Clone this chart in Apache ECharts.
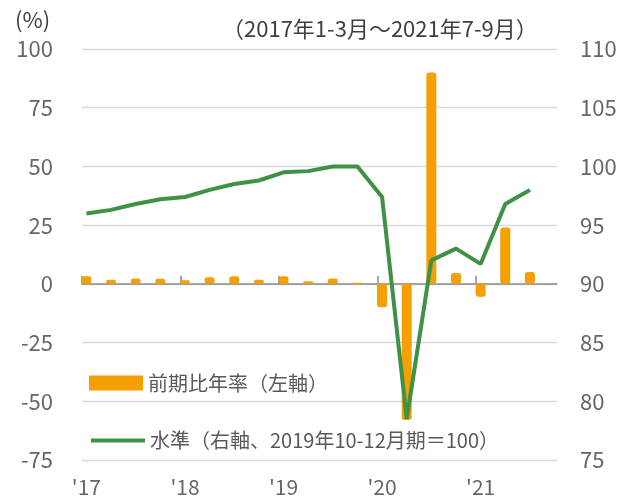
<!DOCTYPE html>
<html>
<head>
<meta charset="utf-8">
<script src="https://cdn.jsdelivr.net/npm/echarts@6/dist/echarts.min.js"></script>
<style>html,body{margin:0;padding:0;background:#fff;}#c{width:631px;height:499px;}</style>
</head>
<body>
<div id="c"></div>
<script>
var categories = ['2017Q1','2017Q2','2017Q3','2017Q4','2018Q1','2018Q2','2018Q3','2018Q4','2019Q1','2019Q2','2019Q3','2019Q4','2020Q1','2020Q2','2020Q3','2020Q4','2021Q1','2021Q2','2021Q3'];
var growth = [3.2, 1.8, 2.3, 2.2, 1.5, 2.8, 3.2, 1.8, 3.2, 1.1, 2.3, 0.3, -10, -58, 90, 4.6, -5.5, 24, 5];
var level = [96.0, 96.3, 96.8, 97.2, 97.4, 98.0, 98.5, 98.8, 99.5, 99.6, 100.0, 100.0, 97.4, 78.5, 92.0, 93.0, 91.7, 96.8, 98.0];
var tickLabels = ["'17", "'18", "'19", "'20", "'21"];
var tickLabelIdx = [0, 4, 8, 12, 16];
var leftTicks = {min: -75, max: 100, interval: 25};
var rightTicks = {min: 75, max: 110, interval: 5};
var seriesNames = ['前期比年率（左軸）', '水準（右軸、2019年10-12月期＝100）'];
var titleText = '（2017年1-3月～2021年7-9月）';
var unitText = '(%)';

var FONT = '"Noto Sans CJK JP", "Noto Sans", sans-serif';
var TXT = '#595959';
var AX = '#666666';
var DARK = '#404040';
var ORANGE = '#f5a000';
var GREEN = '#3f9146';
var xMin = -0.18, xMax = 19.1;

var chart = echarts.init(document.getElementById('c'), null, {renderer: 'canvas'});
var legendBase = {
  orient: 'vertical', left: 89, padding: 0,
  itemWidth: 54, itemHeight: 15,
  textStyle: {fontSize: 20, color: TXT, fontFamily: FONT, lineHeight: 15}
};
chart.setOption({
  animation: false,
  textStyle: {fontFamily: FONT},
  grid: {left: 82, right: 74, top: 49, bottom: 39},
  graphic: [
    {type: 'text', left: 15, top: 9, style: {text: unitText, fontSize: 22, fill: DARK, fontFamily: FONT}},
    {type: 'text', left: 222, top: 18, style: {text: titleText, fontSize: 22, fill: DARK, fontFamily: FONT}}
  ],
  legend: [
    echarts.util.merge({top: 373, data: [{name: seriesNames[0], icon: 'rect', itemStyle: {borderWidth: 0}}]}, legendBase),
    echarts.util.merge({top: 430.5, data: [{name: seriesNames[1], itemStyle: {opacity: 0}, lineStyle: {width: 4, color: GREEN}}]}, legendBase)
  ],
  xAxis: [
    {
      type: 'value', min: xMin, max: xMax, position: 'bottom',
      axisLine: {show: false}, axisTick: {show: false}, splitLine: {show: false},
      axisLabel: {
        customValues: tickLabelIdx, margin: 17, fontSize: 21, color: AX, fontFamily: FONT,
        formatter: function (v) { var k = tickLabelIdx.indexOf(Math.round(v)); return k >= 0 ? tickLabels[k] : ''; }
      }
    },
    {
      type: 'value', min: xMin, max: xMax, position: 'bottom',
      axisLine: {show: true, onZero: true, onZeroAxisIndex: 0, lineStyle: {color: '#8c8c8c', width: 1.5}},
      axisTick: {show: true, inside: true, length: 8, customValues: tickLabelIdx.map(function (i) { return i + xMin; }), lineStyle: {color: '#8c8c8c', width: 1.5}},
      axisLabel: {show: false}, splitLine: {show: false}
    }
  ],
  yAxis: [
    {
      type: 'value', min: leftTicks.min, max: leftTicks.max, interval: leftTicks.interval,
      axisLine: {show: false}, axisTick: {show: false},
      axisLabel: {fontSize: 22, color: AX, margin: 29, fontFamily: FONT},
      splitLine: {lineStyle: {color: '#d9d9d9', width: 1.3}}
    },
    {
      type: 'value', min: rightTicks.min, max: rightTicks.max, interval: rightTicks.interval,
      axisLine: {show: false}, axisTick: {show: false},
      axisLabel: {fontSize: 22, color: AX, margin: 23, fontFamily: FONT},
      splitLine: {show: false}
    }
  ],
  series: [
    {
      name: seriesNames[0], type: 'bar', xAxisIndex: 0, yAxisIndex: 0, barWidth: 10,
      itemStyle: {color: ORANGE, borderColor: ORANGE, borderWidth: 1.5, borderRadius: 2},
      data: growth.map(function (v, i) { return [i, v]; })
    },
    {
      name: seriesNames[1], type: 'line', xAxisIndex: 0, yAxisIndex: 1, symbol: 'none',
      lineStyle: {color: GREEN, width: 4}, itemStyle: {color: GREEN},
      data: level.map(function (v, i) { return [i, v]; })
    }
  ]
});
</script>
</body>
</html>
